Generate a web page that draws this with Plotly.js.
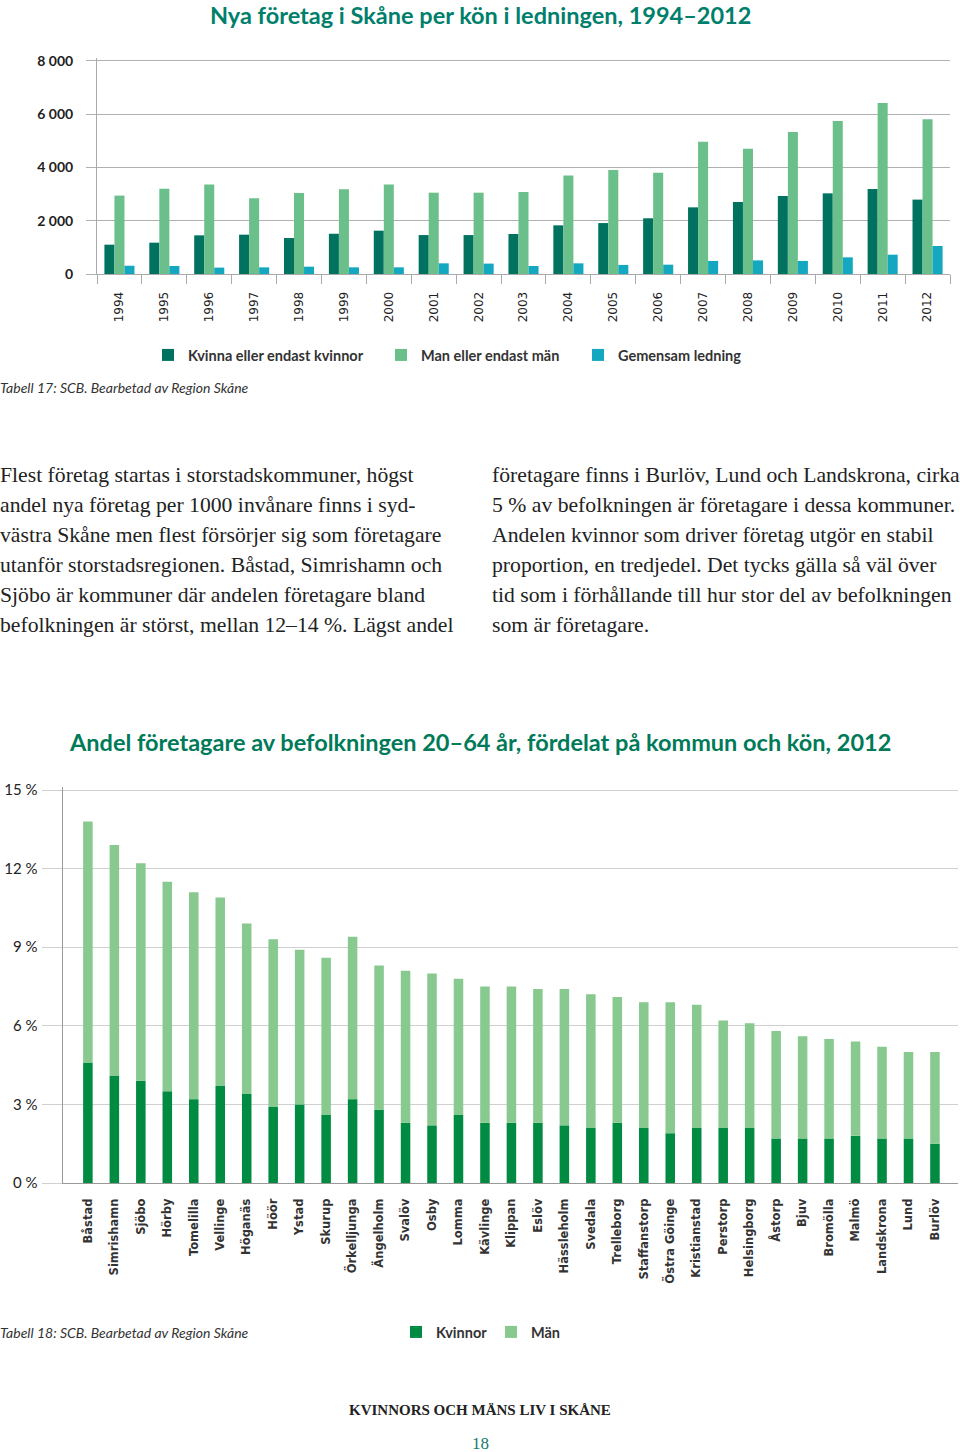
<!DOCTYPE html>
<html><head><meta charset="utf-8">
<script src="https://cdn.plot.ly/plotly-3.0.1.min.js"></script>
<style>html,body{margin:0;padding:0;background:#fff}</style>
</head><body><div id="chart" style="width:960px;height:1452px"></div>
<script>
const years = ['1994','1995','1996','1997','1998','1999','2000','2001','2002','2003','2004','2005','2006','2007','2008','2009','2010','2011','2012'];
const kvinnaLedning = [1100,1175,1450,1475,1350,1510,1625,1460,1460,1500,1825,1910,2090,2500,2700,2925,3025,3190,2790];
const manLedning = [2940,3200,3360,2840,3040,3175,3360,3050,3050,3075,3690,3900,3800,4960,4700,5325,5740,6410,5800];
const gemensamLedning = [310,300,240,250,275,250,250,400,390,300,400,340,350,490,510,490,625,725,1050];
const yTicks1 = [0,2000,4000,6000,8000];

const kommuner = ['Båstad','Simrishamn','Sjöbo','Hörby','Tomelilla','Vellinge','Höganäs','Höör','Ystad','Skurup','Örkelljunga','Ängelholm','Svalöv','Osby','Lomma','Kävlinge','Klippan','Eslöv','Hässleholm','Svedala','Trelleborg','Staffanstorp','Östra Göinge','Kristianstad','Perstorp','Helsingborg','Åstorp','Bjuv','Bromölla','Malmö','Landskrona','Lund','Burlöv'];
const andelKvinnor = [4.6,4.1,3.9,3.5,3.2,3.7,3.4,2.9,3.0,2.6,3.2,2.8,2.3,2.2,2.6,2.3,2.3,2.3,2.2,2.1,2.3,2.1,1.9,2.1,2.1,2.1,1.7,1.7,1.7,1.8,1.7,1.7,1.5];
const andelMan = [9.2,8.8,8.3,8.0,7.9,7.2,6.5,6.4,5.9,6.0,6.2,5.5,5.8,5.8,5.2,5.2,5.2,5.1,5.2,5.1,4.8,4.8,5.0,4.7,4.1,4.0,4.1,3.9,3.8,3.6,3.5,3.3,3.5];
const yTicks2 = [0,3,6,9,12,15];
const yTickText2 = ['0 %','3 %','6 %','9 %','12 %','15 %'];

const title1 = 'Nya företag i Skåne per kön i ledningen, 1994–2012';
const title2 = 'Andel företagare av befolkningen 20–64 år, fördelat på kommun och kön, 2012';
const source1 = 'Tabell 17: SCB. Bearbetad av Region Skåne';
const source2 = 'Tabell 18: SCB. Bearbetad av Region Skåne';
const textLeft = [
 'Flest företag startas i storstadskommuner, högst',
 'andel nya företag per 1000 invånare finns i syd-',
 'västra Skåne men flest försörjer sig som företagare',
 'utanför storstadsregionen. Båstad, Simrishamn och',
 'Sjöbo är kommuner där andelen företagare bland',
 'befolkningen är störst, mellan 12–14 %. Lägst andel'
];
const textRight = [
 'företagare finns i Burlöv, Lund och Landskrona, cirka',
 '5 % av befolkningen är företagare i dessa kommuner.',
 'Andelen kvinnor som driver företag utgör en stabil',
 'proportion, en tredjedel. Det tycks gälla så väl över',
 'tid som i förhållande till hur stor del av befolkningen',
 'som är företagare.'
];
const footer = 'KVINNORS OCH MÄNS LIV I SKÅNE';
const pageNo = '18';

const W = 960, H = 1452;
const X = px => px / W;
const Y = py => 1 - py / H;
const sans = 'Lato, "Open Sans", sans-serif';
const serif = '"Liberation Serif", "DejaVu Serif", serif';

const traces = [
  {type:'bar', x:years, y:kvinnaLedning, name:'Kvinna eller endast kvinnor', marker:{color:'#00725f'}, xaxis:'x', yaxis:'y', legend:'legend'},
  {type:'bar', x:years, y:manLedning, name:'Man eller endast män', marker:{color:'#6bbf8a'}, xaxis:'x', yaxis:'y', legend:'legend2'},
  {type:'bar', x:years, y:gemensamLedning, name:'Gemensam ledning', marker:{color:'#14a8c0'}, xaxis:'x', yaxis:'y', legend:'legend3'},
  {type:'bar', x:kommuner, y:andelKvinnor, name:'Kvinnor', marker:{color:'#008a42'}, xaxis:'x2', yaxis:'y2',
    width:0.36, offset:-0.18, offsetgroup:'andel', legend:'legend4'},
  {type:'bar', x:kommuner, y:andelMan, base:andelKvinnor, name:'Män', marker:{color:'#87c98f'}, xaxis:'x2', yaxis:'y2',
    width:0.36, offset:-0.18, offsetgroup:'andel', legend:'legend5'}
];
traces.forEach(t => { t.hoverinfo = 'skip'; });

const legFont = {family:sans, size:14.5, color:'#333', weight:700};
function leg(x, y) {
  return {x:X(x), y:Y(y), xanchor:'left', yanchor:'middle', orientation:'h', font:legFont, bgcolor:'rgba(0,0,0,0)', borderwidth:0};
}

const annotations = [];
annotations.push({text:title1, x:X(480), y:Y(15), xref:'paper', yref:'paper', xanchor:'center', yanchor:'middle', showarrow:false, font:{family:sans, size:23.5, color:'#00806c', weight:700}});
annotations.push({text:title2, x:X(480), y:Y(742), xref:'paper', yref:'paper', xanchor:'center', yanchor:'middle', showarrow:false, font:{family:sans, size:23.5, color:'#007a58', weight:700}});
annotations.push({text:source1, x:X(-2), y:Y(388), xref:'paper', yref:'paper', xanchor:'left', yanchor:'middle', showarrow:false, font:{family:sans, size:14, color:'#333', style:'italic'}});
annotations.push({text:source2, x:X(-2), y:Y(1332), xref:'paper', yref:'paper', xanchor:'left', yanchor:'middle', showarrow:false, font:{family:sans, size:14, color:'#333', style:'italic'}});
textLeft.forEach((t,i) => annotations.push({text:t, x:X(-2), y:Y(475 + 30*i), xref:'paper', yref:'paper', xanchor:'left', yanchor:'middle', showarrow:false, font:{family:serif, size:21.7, color:'#222'}}));
textRight.forEach((t,i) => annotations.push({text:t, x:X(490), y:Y(475 + 30*i), xref:'paper', yref:'paper', xanchor:'left', yanchor:'middle', showarrow:false, font:{family:serif, size:21.7, color:'#222'}}));
annotations.push({text:footer, x:X(480), y:Y(1410), xref:'paper', yref:'paper', xanchor:'center', yanchor:'middle', showarrow:false, font:{family:serif, size:15, color:'#222', weight:700}});
annotations.push({text:pageNo, x:X(480), y:Y(1443), xref:'paper', yref:'paper', xanchor:'center', yanchor:'middle', showarrow:false, font:{family:serif, size:17, color:'#127a6e'}});

const layout = {
  width:W, height:H,
  margin:{l:0, r:0, t:0, b:0},
  paper_bgcolor:'#fff', plot_bgcolor:'rgba(0,0,0,0)',
  separators:', ',
  barmode:'group', bargap:0.33, bargroupgap:0,
  showlegend:true,
  xaxis:{domain:[X(97), X(950)], anchor:'y', type:'category', showline:true, linecolor:'#aaa', linewidth:1,
    ticks:'outside', tickson:'boundaries', ticklen:9, tickcolor:'#aaa', tickwidth:1,
    tickangle:-90, tickfont:{family:'"DejaVu Sans", sans-serif', size:12, color:'#222'}, ticklabelstandoff:12,
    showgrid:false, fixedrange:true},
  yaxis:{domain:[Y(274), Y(274 - 8100*213.3/8000)], anchor:'x', range:[0,8100], tickvals:yTicks1, separatethousands:true,
    showline:true, linecolor:'#aaa', linewidth:1, showgrid:true, gridcolor:'#b0b0b0', gridwidth:1,
    ticks:'outside', ticklen:10, tickcolor:'#b0b0b0', ticklabelstandoff:10,
    tickfont:{family:sans, size:14, color:'#222', weight:700}, zeroline:false, fixedrange:true},
  xaxis2:{domain:[X(63), X(958)], anchor:'y2', type:'category', range:[-0.94, 32.87], showline:true, linecolor:'#999', linewidth:1,
    ticks:'', tickangle:-90, tickfont:{family:'"DejaVu Sans", sans-serif', size:11.5, color:'#333', weight:700}, ticklabelstandoff:10,
    showgrid:false, fixedrange:true},
  yaxis2:{domain:[Y(1183), Y(1183 - 15.1*26.2)], anchor:'x2', range:[0,15.1], tickmode:'array', tickvals:yTicks2, ticktext:yTickText2,
    showline:true, linecolor:'#999', linewidth:1.5, showgrid:true, gridcolor:'#d0d0d0', gridwidth:1,
    ticks:'outside', ticklen:20, tickcolor:'#d0d0d0', ticklabelstandoff:1,
    tickfont:{family:sans, size:15, color:'#222'}, zeroline:false, fixedrange:true},
  legend:leg(148,355), legend2:leg(381,355), legend3:leg(578,355),
  legend4:leg(396,1332), legend5:leg(491,1332),
  annotations:annotations
};

Plotly.newPlot('chart', traces, layout, {displayModeBar:false, staticPlot:true});
</script></body></html>
